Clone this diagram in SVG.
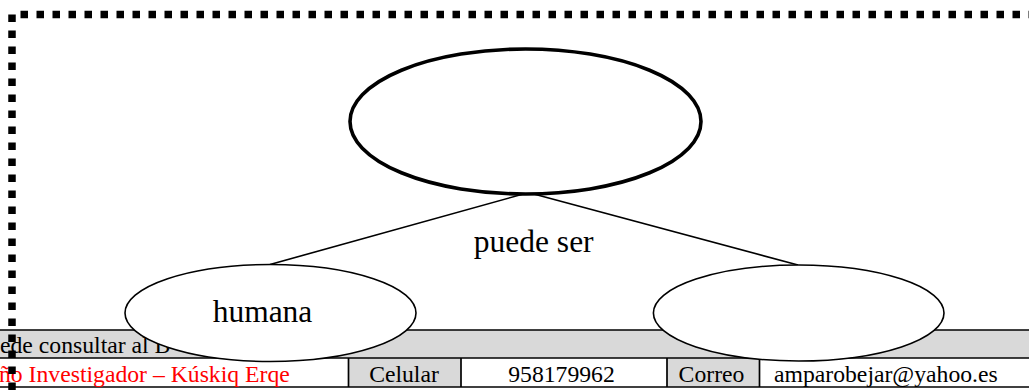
<svg xmlns="http://www.w3.org/2000/svg" width="1029" height="391" viewBox="0 0 1029 391">
<style>
.t{font-family:"Liberation Serif","Times New Roman",serif;fill:#000}
.big{font-size:31.5px}
.sm{font-size:23.7px}
.node{fill:#fff;stroke:#000;stroke-width:1.6}
.rule{stroke:#000;stroke-width:1.7;fill:none}
.gray{fill:#d9d9d9}
.dots{stroke:#000;stroke-width:7.5;stroke-dasharray:7.5 8.5;fill:none}
</style>
<rect width="1029" height="391" fill="#fff"/>
<g id="table">
<rect class="gray" x="0" y="330" width="1029" height="28"/>
<rect class="gray" x="348" y="358" width="113" height="29"/>
<rect class="gray" x="667" y="358" width="92" height="29"/>
<line class="rule" x1="0" y1="330" x2="1029" y2="330"/>
<line class="rule" x1="0" y1="358" x2="1029" y2="358"/>
<line class="rule" x1="0" y1="387" x2="1029" y2="387"/>
<line class="rule" x1="348.5" y1="358" x2="348.5" y2="387"/>
<line class="rule" x1="461" y1="358" x2="461" y2="387"/>
<line class="rule" x1="667" y1="358" x2="667" y2="387"/>
<line class="rule" x1="759.5" y1="358" x2="759.5" y2="387"/>
<text class="t sm" x="0" y="353.3">ede consultar al B</text>
<text class="t sm" x="-1" y="381.7" fill="#ff0000" style="fill:#ff0000">ño Investigador – Kúskiq Erqe</text>
<text class="t sm" x="404" y="381.7" text-anchor="middle">Celular</text>
<text class="t sm" x="561.5" y="381.7" text-anchor="middle">958179962</text>
<text class="t sm" x="711.5" y="381.7" text-anchor="middle">Correo</text>
<text class="t sm" x="774" y="381.7">amparobejar@yahoo.es</text>
</g>
<g id="connectors">
<line x1="527" y1="193" x2="270" y2="264.5" stroke="#000" stroke-width="1.6"/>
<line x1="530" y1="193" x2="798" y2="265" stroke="#000" stroke-width="1.6"/>
</g>
<g id="label-puede-ser">
<text class="t big" x="533.7" y="251.7" text-anchor="middle">puede ser</text>
</g>
<g id="node-top">
<ellipse cx="525.5" cy="121.5" rx="175.5" ry="72.5" fill="#fff" stroke="#000" stroke-width="3.6"/>
</g>
<g id="node-humana">
<ellipse class="node" cx="270.5" cy="313" rx="145.5" ry="48.5"/>
<text class="t big" x="262.5" y="322" text-anchor="middle">humana</text>
</g>
<g id="node-right">
<ellipse class="node" cx="798.7" cy="313" rx="145.3" ry="48"/>
</g>
<g id="border">
<line class="dots" x1="20.5" y1="14.5" x2="1029" y2="14.5"/>
<line class="dots" x1="12" y1="14.5" x2="12" y2="391"/>
</g>
</svg>
